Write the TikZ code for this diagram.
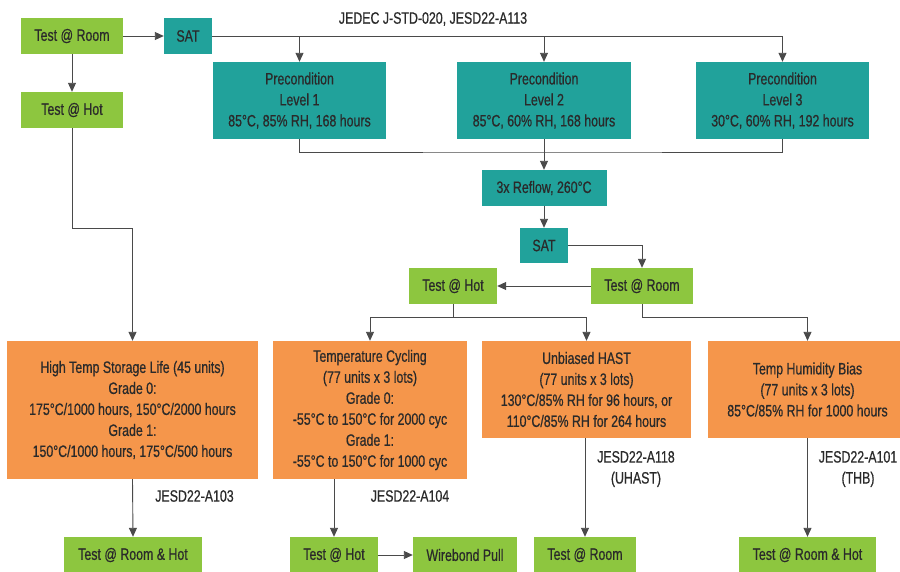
\documentclass[tikz,border=0pt]{standalone}
\usepackage{fontspec}
\setmainfont{Liberation Sans}[FakeStretch=0.75, FakeBold=0.6]
\usepackage{xcolor}
\usepackage{tikz}
\usetikzlibrary{calc}
\usetikzlibrary{arrows.meta}

\definecolor{boxgreen}{HTML}{8DC63F}
\definecolor{boxteal}{HTML}{21A29B}
\definecolor{boxorange}{HTML}{F5964B}
\definecolor{inktext}{HTML}{2A2A2A}
\definecolor{inkline}{HTML}{4A4A4A}

\tikzset{
	box/.style={rectangle, inner sep=0pt, align=center, text=inktext, font=\fontsize{16.5}{21}\selectfont},
	greenbox/.style={box, fill=boxgreen, minimum height=36},
	tealbox/.style={box, fill=boxteal},
	orangebox/.style={box, fill=boxorange},
	lbl/.style={align=center, text=inktext, inner sep=0pt, font=\fontsize{16.5}{21}\selectfont},
	wire/.style={draw=inkline, line width=0.9pt}
}

\begin{document}
\begin{tikzpicture}[x=1pt, y=-1pt, >={Triangle[length=9pt,width=8pt]}]
		\useasboundingbox (0,0) rectangle (900,571);

		%elements
		\node at (72,36) (room1) [greenbox, minimum width=102] {Test @ Room};
		\node at (188,36) (sat1) [tealbox, minimum width=48, minimum height=36] {SAT};
		\node at (72,110) (hot1) [greenbox, minimum width=102] {Test @ Hot};

		\node at (433,19) (jedec) [lbl] {JEDEC J-STD-020, JESD22-A113};

		\node at (299.5,100.5) (pre1) [tealbox, minimum width=173, minimum height=77] {Precondition\\Level 1\\85°C, 85\% RH, 168 hours};
		\node at (544,100.5) (pre2) [tealbox, minimum width=174, minimum height=77] {Precondition\\Level 2\\85°C, 60\% RH, 168 hours};
		\node at (782.5,100.5) (pre3) [tealbox, minimum width=173, minimum height=77] {Precondition\\Level 3\\30°C, 60\% RH, 192 hours};

		\node at (544,188) (reflow) [tealbox, minimum width=125, minimum height=36] {3x Reflow, 260°C};
		\node at (544,245.5) (sat2) [tealbox, minimum width=48, minimum height=35] {SAT};
		\node at (642,286) (room2) [greenbox, minimum width=102] {Test @ Room};
		\node at (453,286) (hot2) [greenbox, minimum width=88] {Test @ Hot};

		\node at (132.5,410) (htsl) [orangebox, minimum width=251, minimum height=138] {High Temp Storage Life (45 units)\\Grade 0:\\175°C/1000 hours, 150°C/2000 hours\\Grade 1:\\150°C/1000 hours, 175°C/500 hours};
		\node at (370,410) (tc) [orangebox, minimum width=194, minimum height=138] {Temperature Cycling\\(77 units x 3 lots)\\Grade 0:\\-55°C to 150°C for 2000 cyc\\Grade 1:\\-55°C to 150°C for 1000 cyc};
		\node at (586.5,389.5) (hast) [orangebox, minimum width=209, minimum height=97] {Unbiased HAST\\(77 units x 3 lots)\\130°C/85\% RH for 96 hours, or\\110°C/85\% RH for 264 hours};
		\node at (807.5,389.5) (thb) [orangebox, minimum width=199, minimum height=97] {Temp Humidity Bias\\(77 units x 3 lots)\\85°C/85\% RH for 1000 hours};

		\node at (194.5,496) (a103) [lbl] {JESD22-A103};
		\node at (410,496) (a104) [lbl] {JESD22-A104};
		\node at (636,469) (a118) [lbl] {JESD22-A118\\(UHAST)};
		\node at (858,469) (a101) [lbl] {JESD22-A101\\(THB)};

		\node at (133,555) (rh1) [greenbox, minimum width=138] {Test @ Room \& Hot};
		\node at (334,555) (hot3) [greenbox, minimum width=88] {Test @ Hot};
		\node at (465,555) (wb) [greenbox, minimum width=104] {Wirebond Pull};
		\node at (585,555) (room3) [greenbox, minimum width=102] {Test @ Room};
		\node at (807.5,555) (rh2) [greenbox, minimum width=137] {Test @ Room \& Hot};

		\coordinate (merge) at (544,152);
		\coordinate (bend) at (72,228);
		\coordinate (split1) at (453,317);
		\coordinate (split2) at (642,317);

		%connectors
		\draw [wire,->] (room1.east) -- (sat1.west);
		\draw [wire,->] (room1.south) -- (hot1.north);
		\draw [wire,->] (sat1.east) -| (pre3.north);
		\draw [wire,->] (sat1.east -| pre1.north) -- (pre1.north);
		\draw [wire,->] (sat1.east -| pre2.north) -- (pre2.north);
		\draw [wire] (pre1.south) |- (merge) -| (pre3.south);
		\draw [wire,->] (pre2.south) -- (reflow.north);
		\draw [wire,->] (reflow.south) -- (sat2.north);
		\draw [wire,->] (sat2.east) -| (room2.north);
		\draw [wire,->] (room2.west) -- (hot2.east);
		\draw [wire,->] (hot2.south) |- (split1) -| (tc.north);
		\draw [wire,->] (split1) -| (hast.north);
		\draw [wire,->] (room2.south) -- (split2) -| (thb.north);
		\draw [wire,->] (hot1.south) -- (bend) -| (htsl.north);
		\draw [wire,->] (htsl.south) -- (rh1.north);
		\draw [wire,->] (hot3.north |- tc.south) -- (hot3.north);
		\draw [wire,->] (hot3.east) -- (wb.west);
		\draw [wire,->] (hast.south -| room3.north) -- (room3.north);
		\draw [wire,->] (thb.south) -- (rh2.north);
		\end{tikzpicture}
\end{document}
